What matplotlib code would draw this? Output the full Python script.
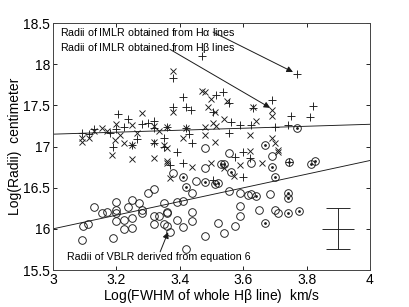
import matplotlib as mpl
mpl.use('Agg')
import matplotlib.pyplot as plt
import numpy as np

mpl.rcParams['font.family'] = ['Liberation Sans', 'DejaVu Sans']
mpl.rcParams['mathtext.fontset'] = 'custom'
mpl.rcParams['mathtext.rm'] = 'Liberation Sans'
mpl.rcParams['mathtext.it'] = 'Liberation Sans'

# IMLR radii from H-alpha ("+")
ha_fwhm = [3.47, 3.38, 3.41, 3.38, 3.42, 3.435, 3.205, 3.237, 3.28, 3.30, 3.32,
           3.09, 3.115, 3.13, 3.18, 3.20, 3.225, 3.19, 3.265, 3.32, 3.32, 3.36,
           3.35, 3.42, 3.44, 3.43, 3.515, 3.535, 3.555, 3.63, 3.69, 3.77, 3.75,
           3.82, 3.81, 3.505, 3.56, 3.59, 3.625, 3.70, 3.74, 3.555, 3.37, 3.41,
           3.39, 3.60, 3.62, 3.575, 3.745, 3.25, 3.35, 3.505, 3.60]
ha_radii = [18.10, 17.83, 17.60, 17.48, 17.48, 17.44, 17.39, 17.33, 17.27, 17.29, 17.31,
            17.16, 17.15, 17.21, 17.17, 17.21, 17.24, 17.00, 17.09, 17.22, 17.04, 17.24,
            17.00, 17.22, 17.04, 17.15, 17.62, 17.66, 17.53, 17.47, 17.56, 17.88, 17.37,
            17.49, 17.36, 17.42, 17.30, 17.26, 17.26, 17.24, 17.26, 17.16, 16.77, 16.80,
            16.93, 16.93, 16.86, 16.87, 16.81, 17.02, 17.10, 16.59, 16.63]

# IMLR radii from H-beta ("x")
hb_fwhm = [3.38, 3.47, 3.38, 3.28, 3.25, 3.32, 3.09, 3.09, 3.115, 3.13, 3.155, 3.17,
           3.20, 3.21, 3.195, 3.225, 3.25, 3.265, 3.335, 3.36, 3.32, 3.35, 3.36, 3.41,
           3.42, 3.48, 3.50, 3.49, 3.51, 3.55, 3.63, 3.69, 3.69, 3.48, 3.505, 3.515,
           3.54, 3.64, 3.48, 3.51, 3.62, 3.69, 3.70, 3.71, 3.185, 3.25, 3.32, 3.36,
           3.37, 3.44, 3.36, 3.54, 3.50, 3.59, 3.66, 3.57, 3.62, 3.71]
hb_radii = [17.92, 17.67, 17.42, 17.41, 17.26, 17.25, 17.10, 17.05, 17.10, 17.19, 17.22, 17.19,
            17.27, 17.14, 17.08, 17.04, 17.02, 17.16, 17.19, 17.24, 17.06, 17.02, 16.98, 17.10,
            17.22, 17.66, 17.58, 17.48, 17.42, 17.55, 17.48, 17.44, 17.37, 17.24, 17.28, 17.25,
            17.33, 17.31, 17.14, 17.06, 17.14, 17.10, 17.04, 16.96, 16.90, 16.85, 16.86, 16.80,
            16.62, 16.75, 16.82, 16.74, 16.80, 16.78, 16.80, 16.64, 16.94, 16.93]

# VBLR radii (open circles)
vb_fwhm = [3.095, 3.11, 3.09, 3.13, 3.155, 3.17, 3.19, 3.20, 3.20, 3.20, 3.20, 3.225,
           3.225, 3.237, 3.25, 3.25, 3.25, 3.27, 3.28, 3.28, 3.30, 3.32, 3.32, 3.32,
           3.335, 3.35, 3.36, 3.36, 3.35, 3.36, 3.37, 3.39, 3.39, 3.41, 3.41, 3.38,
           3.45, 3.44, 3.44, 3.44, 3.42, 3.48, 3.52, 3.54, 3.575, 3.59, 3.59, 3.555,
           3.59, 3.615, 3.625, 3.685, 3.65, 3.70, 3.71, 3.69, 3.625, 3.555, 3.48, 3.48]
vb_radii = [16.03, 16.06, 15.86, 16.26, 16.19, 16.20, 15.89, 16.33, 16.23, 16.19, 16.10, 16.11,
            16.00, 16.26, 16.35, 16.13, 16.01, 16.31, 16.23, 16.19, 16.44, 16.48, 16.16, 16.06,
            16.16, 16.31, 16.21, 16.19, 16.06, 16.03, 15.96, 16.11, 16.33, 16.34, 16.02, 16.68,
            16.58, 16.44, 16.20, 16.10, 15.75, 15.91, 16.07, 15.95, 16.03, 16.16, 16.28, 16.46,
            16.44, 16.41, 16.42, 16.42, 16.23, 16.23, 16.19, 16.88, 16.80, 16.92, 16.74, 16.98]

# VBLR radii, second subsample (dotted circles)
vd_fwhm = [3.41, 3.42, 3.48, 3.51, 3.52, 3.64, 3.74, 3.74, 3.67, 3.74, 3.775, 3.53,
           3.54, 3.56, 3.69, 3.70, 3.745, 3.815, 3.825, 3.77, 3.67]
vd_radii = [16.63, 16.51, 16.57, 16.55, 16.56, 16.40, 16.43, 16.37, 16.07, 16.19, 16.22, 16.79,
            16.79, 16.69, 16.75, 16.63, 16.81, 16.79, 16.83, 17.22, 17.02]

# fitted lines (values at x = 3 and x = 4)
fit_x = [3.0, 4.0]
fit_imlr = [17.15, 17.27]
fit_vblr = [16.0, 16.83]

# typical error bar
err_x, err_y, err_dx, err_dy = 3.9, 16.0, 0.05, 0.25

fig = plt.figure(figsize=(4.09, 3.07), dpi=100)
ax = fig.add_axes([0.1296, 0.1205, 0.775, 0.8045])

lw = 0.65
ink = '#1a1a1a'
ax.plot(ha_fwhm, ha_radii, '+', color=ink, ms=6, mew=lw)
ax.plot(hb_fwhm, hb_radii, 'x', color=ink, ms=4.5, mew=lw)
ax.plot(vb_fwhm, vb_radii, 'o', mfc='none', mec=ink, ms=5.5, mew=lw)
ax.plot(vd_fwhm, vd_radii, 'o', mfc='none', mec=ink, ms=5.5, mew=lw)
ax.plot(vd_fwhm, vd_radii, '.', color=ink, ms=2)

ax.plot(fit_x, fit_imlr, color=ink, lw=lw)
ax.plot(fit_x, fit_vblr, color=ink, lw=lw)

ax.errorbar([err_x], [err_y], yerr=[err_dy], color=ink, lw=lw, capsize=8.5, capthick=lw)
ax.errorbar([err_x], [err_y], xerr=[err_dx], color=ink, lw=lw, capsize=0)

fs = 7.7
ax.text(3.022, 18.39, r'Radii of IMLR obtained from H$\alpha$ lines', fontsize=fs, va='center')
ax.text(3.022, 18.20, r'Radii of IMLR obtained from H$\beta$ lines', fontsize=fs, va='center')
ax.text(3.044, 15.66, 'Radii of VBLR derived from equation 6', fontsize=fs, va='center')

arr = dict(arrowstyle='-|>', color=ink, lw=0.7, mutation_scale=9, shrinkA=0, shrinkB=0)
ax.annotate('', xy=(3.757, 17.905), xytext=(3.505, 18.39), arrowprops=arr)
ax.annotate('', xy=(3.685, 17.47), xytext=(3.369, 18.18), arrowprops=arr)
ax.annotate('', xy=(3.363, 15.96), xytext=(3.338, 15.72), arrowprops=arr)

ax.set_xlim(3, 4)
ax.set_ylim(15.5, 18.5)
ax.set_xticks([3, 3.2, 3.4, 3.6, 3.8, 4])
ax.set_xticklabels(['3', '3.2', '3.4', '3.6', '3.8', '4'])
ax.set_yticks([15.5, 16, 16.5, 17, 17.5, 18, 18.5])
ax.set_yticklabels(['15.5', '16', '16.5', '17', '17.5', '18', '18.5'])
ax.tick_params(direction='in', top=True, right=True, length=3, width=0.6, labelsize=10, pad=2)
for s in ax.spines.values():
    s.set_linewidth(0.7)
    s.set_color('#444444')

ax.set_xlabel(r'Log(FWHM of whole H$\beta$ line)  km/s', fontsize=10, labelpad=0)
ax.set_ylabel('Log(Radii)  centimeter', fontsize=10, labelpad=1)

fig.savefig('out.png', dpi=100)
